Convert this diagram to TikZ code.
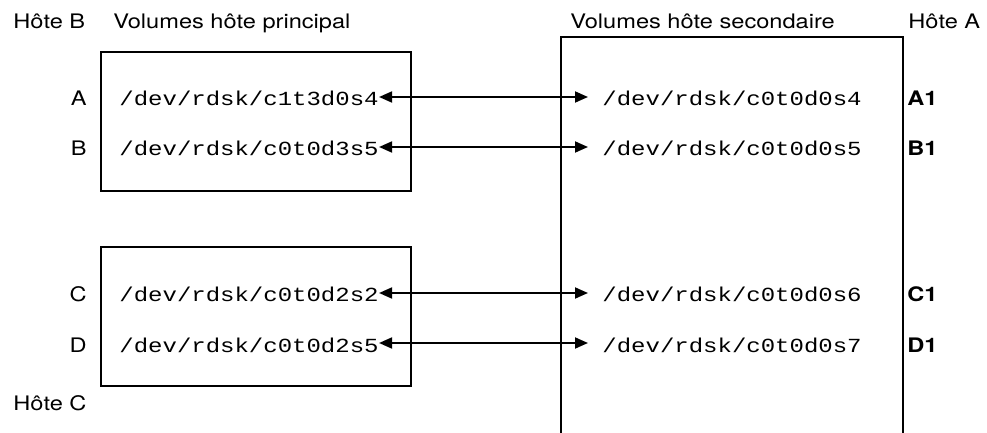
\documentclass[tikz,border=0pt]{standalone}
\usepackage{fontspec}
\setmainfont{TeX Gyre Heros}[FakeStretch=1.18]
\setmonofont{Liberation Mono}[FakeStretch=1.2]
\usetikzlibrary{arrows.meta}

\begin{document}
\begin{tikzpicture}[x=0.5pt, y=-0.5pt,
        txt/.style={font=\fontsize{10}{12}\selectfont, inner sep=0pt},
        row/.style={txt, text height=9pt, text depth=0pt},
        dev/.style={row, font=\fontsize{10}{12}\selectfont\ttfamily},
        hostbox/.style={draw, line width=0.8pt, inner sep=0pt, outer sep=0pt,
                        minimum width=155pt, minimum height=69.5pt},
        link/.style={{Triangle[length=6.5pt,width=5.5pt]}-{Triangle[length=6.5pt,width=5.5pt]},
                     line width=0.9pt, shorten >=7pt}]
            \useasboundingbox (0,0) rectangle (987,433);
            % titles
            \node[txt, anchor=base west] (hostB) at (13, 29) {Hôte B};
            \node[txt, anchor=base west] (volP) at (113, 29) {Volumes hôte principal};
            \node[txt, anchor=base west] (volS) at (570, 29) {Volumes hôte secondaire};
            \node[txt, anchor=base west] (hostA) at (908, 29) {Hôte A};
            \node[txt, anchor=base west] (hostC) at (13, 410) {Hôte C};
            % primary boxes
            \node[hostbox] (boxAB) at (256, 121.5) {};
            \node[hostbox] (boxCD) at (256, 316.5) {};
            % secondary box, open at the bottom
            \draw[line width=0.8pt] (561, 433) -- (561, 37) -- (903, 37) -- (903, 433);
            % rows
            \node[row, anchor=east] (labA) at (87, 97) {A};
            \node[row, anchor=east] (labB) at (87, 147) {B};
            \node[row, anchor=east] (labC) at (87, 293) {C};
            \node[row, anchor=east] (labD) at (87, 343) {D};
            \node[dev, anchor=west] (srcA) at (119, 97) {/dev/rdsk/c1t3d0s4};
            \node[dev, anchor=west] (srcB) at (119, 147) {/dev/rdsk/c0t0d3s5};
            \node[dev, anchor=west] (srcC) at (119, 293) {/dev/rdsk/c0t0d2s2};
            \node[dev, anchor=west] (srcD) at (119, 343) {/dev/rdsk/c0t0d2s5};
            \node[dev, anchor=west] (dstA) at (602, 97) {/dev/rdsk/c0t0d0s4};
            \node[dev, anchor=west] (dstB) at (602, 147) {/dev/rdsk/c0t0d0s5};
            \node[dev, anchor=west] (dstC) at (602, 293) {/dev/rdsk/c0t0d0s6};
            \node[dev, anchor=west] (dstD) at (602, 343) {/dev/rdsk/c0t0d0s7};
            \node[row, anchor=west, font=\fontsize{10}{12}\selectfont\bfseries] (tagA) at (907, 97) {A1};
            \node[row, anchor=west, font=\fontsize{10}{12}\selectfont\bfseries] (tagB) at (907, 147) {B1};
            \node[row, anchor=west, font=\fontsize{10}{12}\selectfont\bfseries] (tagC) at (907, 293) {C1};
            \node[row, anchor=west, font=\fontsize{10}{12}\selectfont\bfseries] (tagD) at (907, 343) {D1};
            % replication links
            \draw[link] (srcA) -- (dstA);
            \draw[link] (srcB) -- (dstB);
            \draw[link] (srcC) -- (dstC);
            \draw[link] (srcD) -- (dstD);
        \end{tikzpicture}
\end{document}
